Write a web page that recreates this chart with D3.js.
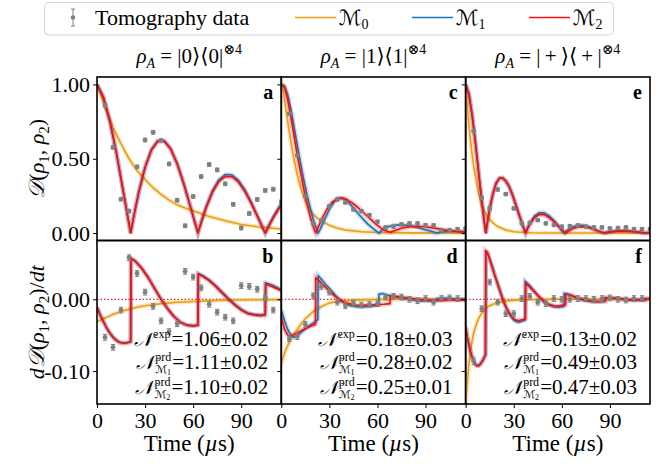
<!DOCTYPE html>
<html>
<head>
<meta charset="utf-8">
<script src="https://cdn.jsdelivr.net/npm/d3@7"></script>
<style>
  body { margin: 0; background: #fff; }
  text { font-family: "Liberation Serif", "Times New Roman", "DejaVu Serif", serif; fill: #000; }
  .cal { font-family: "DejaVu Serif", "DejaVu Sans", serif; font-style: italic; }
  .tick text { font-family: "Liberation Serif", "Times New Roman", serif; font-size: 22px; }
</style>
</head>
<body>
<svg id="chart" width="663" height="464"></svg>
<script>
// sample times (us)
const tTop = [5, 10, 15, 20, 25, 30, 35, 40, 45, 50, 55, 60, 65, 70, 75, 80, 85, 90, 95, 100, 105, 110, 115]
const tDer = [5, 10, 15, 20, 25, 30, 35, 40, 45, 50, 55, 60, 65, 70, 75, 80, 85, 90, 95, 100, 105, 110]
const xTicks = [0, 30, 60, 90]
const yTicksTop = [0, 0.5, 1]
const yTicksBot = [-0.1, 0]
const stateLabels = ['0', '1', '\u2009+\u2009']
const letters = ['a', 'b', 'c', 'd', 'e', 'f']

// tomography data
const aData = [0.86, 0.577, 0.228, 0.148, 0.445, 0.626, 0.678, 0.624, 0.465, 0.221, 0.049, 0.246, 0.38, 0.461, 0.425, 0.331, 0.193, 0.034, 0.132, 0.226, 0.287, 0.295, 0.21]
const aErr = [0.012, 0.012, 0.012, 0.012, 0.012, 0.012, 0.012, 0.012, 0.012, 0.012, 0.012, 0.012, 0.012, 0.012, 0.012, 0.012, 0.012, 0.012, 0.012, 0.012, 0.012, 0.012, 0.012]
const cData = [0.803, 0.523, 0.248, 0.065, 0.083, 0.181, 0.226, 0.206, 0.159, 0.148, 0.121, 0.076, 0.038, 0.043, 0.058, 0.065, 0.065, 0.054, 0.052, 0.02, 0.02, 0.027, 0.03]
const cErr = [0.01, 0.01, 0.01, 0.01, 0.01, 0.01, 0.01, 0.01, 0.01, 0.01, 0.01, 0.01, 0.01, 0.01, 0.01, 0.01, 0.01, 0.01, 0.01, 0.01, 0.01, 0.01, 0.01]
const eData = [0.685, 0.237, 0.166, 0.293, 0.262, 0.166, 0.065, 0.069, 0.087, 0.065, 0.054, 0.043, 0.047, 0.051, 0.043, 0.038, 0.038, 0.031, 0.034, 0.038, 0.027, 0.027, 0.027]
const eErr = [0.01, 0.01, 0.01, 0.01, 0.01, 0.01, 0.01, 0.01, 0.01, 0.01, 0.01, 0.01, 0.01, 0.01, 0.01, 0.01, 0.01, 0.01, 0.01, 0.01, 0.01, 0.01, 0.01]
const bData = [-0.053, -0.067, -0.015, 0.058, 0.036, 0.01, -0.01, -0.03, -0.045, -0.034, 0.039, 0.031, 0.016, -0.007, -0.018, -0.025, -0.03, 0.019, 0.018, 0.014, 0.002, -0.015]
const bErr = [0.004, 0.004, 0.004, 0.004, 0.004, 0.004, 0.004, 0.004, 0.004, 0.004, 0.004, 0.004, 0.004, 0.004, 0.004, 0.004, 0.004, 0.004, 0.004, 0.004, 0.004, 0.004]
const dData = [-0.055, -0.052, -0.035, 0.005, 0.018, 0.01, -0.004, -0.009, -0.005, -0.008, -0.007, -0.006, 0.003, 0.004, 0.003, 0.0, -0.002, 0.001, -0.004, 0.001, 0.002, 0.001]
const dErr = [0.004, 0.004, 0.004, 0.004, 0.004, 0.004, 0.004, 0.004, 0.004, 0.004, 0.004, 0.004, 0.004, 0.004, 0.004, 0.004, 0.004, 0.004, 0.004, 0.004, 0.004, 0.004]
const fData = [-0.086, -0.013, 0.024, -0.004, -0.02, -0.02, 0.001, 0.004, -0.004, -0.006, 0.001, 0.0, 0.0, 0.001, 0.001, 0.0, 0.001, 0.002, 0.0, -0.001, 0.001, 0.001]
const fErr = [0.005, 0.004, 0.004, 0.004, 0.004, 0.004, 0.004, 0.004, 0.004, 0.004, 0.004, 0.004, 0.004, 0.004, 0.004, 0.004, 0.004, 0.004, 0.004, 0.004, 0.004, 0.004]

// model curves [t, value]
const aM0 = [[0, 1], [3, 0.91], [6, 0.82], [10, 0.71], [15, 0.6], [20, 0.5], [25, 0.42], [30, 0.36], [35, 0.305], [40, 0.26], [45, 0.222], [50, 0.19], [55, 0.168], [60, 0.15], [70, 0.112], [80, 0.083], [90, 0.058], [100, 0.043], [115, 0.027]]
const aM1 = [[0, 1], [4, 0.914], [8, 0.754], [12, 0.544], [16, 0.304], [19, 0.12], [21, 0], [23, 0.115], [26, 0.272], [30, 0.443], [34, 0.561], [38, 0.621], [42, 0.62], [46, 0.567], [50, 0.468], [54, 0.337], [58, 0.189], [61, 0.075], [63, 0], [65, 0.073], [68, 0.174], [72, 0.283], [76, 0.358], [80, 0.393], [84, 0.392], [88, 0.358], [92, 0.295], [96, 0.212], [100, 0.118], [103, 0.046], [105, 0], [107, 0.047], [110, 0.11], [113, 0.165], [115, 0.2]]
const aM2 = [[0, 1], [4, 0.914], [8, 0.754], [12, 0.544], [16, 0.304], [19, 0.12], [21, 0], [23, 0.115], [26, 0.272], [30, 0.443], [34, 0.561], [38, 0.619], [42, 0.618], [46, 0.565], [50, 0.466], [54, 0.336], [58, 0.188], [61, 0.075], [63, 0], [65, 0.071], [68, 0.168], [72, 0.274], [76, 0.346], [80, 0.38], [84, 0.379], [88, 0.346], [92, 0.285], [96, 0.205], [100, 0.114], [103, 0.044], [105, 0], [107, 0.043], [110, 0.102], [113, 0.155], [115, 0.185]]
const bM0 = [[0, -0.031], [5, -0.026], [10, -0.021], [15, -0.017], [20, -0.014], [25, -0.011], [30, -0.009], [40, -0.006], [50, -0.0042], [60, -0.003], [70, -0.002], [80, -0.0014], [90, -0.001], [100, -0.0007], [115, -0.0004]]
const bM1 = [[0, -0.011], [2, -0.022], [4, -0.031], [6, -0.04], [8, -0.047], [10, -0.053], [12, -0.057], [14, -0.06], [16, -0.061], [18, -0.061], [20, -0.06], [21, -0.059], [21.2, 0.057], [24, 0.053], [28, 0.043], [32, 0.03], [36, 0.015], [40, 0.0], [44, -0.013], [48, -0.024], [52, -0.032], [56, -0.036], [60, -0.037], [63, -0.036], [63.2, 0.036], [66, 0.033], [70, 0.027], [74, 0.019], [78, 0.01], [82, 0.001], [86, -0.007], [90, -0.014], [94, -0.019], [98, -0.021], [102, -0.022], [105, -0.021], [105.2, 0.023], [108, 0.021], [112, 0.017], [115, 0.013]]
const bM2 = [[0, -0.011], [2, -0.022], [4, -0.031], [6, -0.04], [8, -0.047], [10, -0.053], [12, -0.057], [14, -0.06], [16, -0.061], [18, -0.061], [20, -0.06], [21, -0.059], [21.2, 0.057], [24, 0.053], [28, 0.043], [32, 0.03], [36, 0.015], [40, 0.0], [44, -0.013], [48, -0.024], [52, -0.032], [56, -0.036], [60, -0.037], [63, -0.036], [63.2, 0.035], [66, 0.032], [70, 0.026], [74, 0.018], [78, 0.009], [82, 0.0], [86, -0.008], [90, -0.015], [94, -0.02], [98, -0.022], [102, -0.023], [105, -0.022], [105.2, 0.021], [108, 0.019], [112, 0.015], [115, 0.012]]
const cM0 = [[0, 1], [1, 0.96], [2.5, 0.86], [5, 0.68], [7.5, 0.52], [10, 0.39], [12.5, 0.29], [15, 0.215], [17.5, 0.16], [20, 0.125], [22.5, 0.1], [25, 0.082], [30, 0.052], [35, 0.033], [40, 0.021], [50, 0.009], [60, 0.004], [80, 0.001], [115, 0]]
const cM1 = [[0, 1], [2, 0.99], [4, 0.93], [6, 0.83], [8, 0.71], [10, 0.59], [12, 0.47], [14, 0.36], [16, 0.26], [18, 0.17], [20, 0.09], [22, 0.025], [23, 0.0], [24.5, 0.03], [27, 0.09], [30, 0.16], [33, 0.21], [36, 0.235], [39, 0.23], [42, 0.205], [45, 0.17], [48, 0.13], [51, 0.095], [54, 0.06], [57, 0.033], [59.5, 0.012], [61, 0.0], [63, 0.02], [66, 0.04], [70, 0.052], [75, 0.055], [80, 0.05], [85, 0.038], [90, 0.023], [94, 0.01], [97, 0.0], [100, 0.008], [105, 0.013], [110, 0.012], [115, 0.008]]
const cM2 = [[0, 1], [2, 0.98], [4, 0.9], [6, 0.78], [8, 0.65], [10, 0.52], [12, 0.41], [14, 0.3], [16, 0.2], [18, 0.11], [20, 0.04], [21.5, 0.0], [23, 0.04], [26, 0.11], [29, 0.17], [32, 0.21], [35, 0.232], [38, 0.236], [41, 0.225], [44, 0.205], [47, 0.18], [50, 0.15], [53, 0.12], [56, 0.09], [59, 0.06], [62, 0.035], [65, 0.015], [68, 0.005], [71, 0.018], [75, 0.032], [80, 0.042], [85, 0.046], [90, 0.043], [95, 0.035], [100, 0.025], [105, 0.016], [110, 0.01], [115, 0.006]]
const dM0 = [[0, -0.09], [1, -0.082], [2.5, -0.072], [5, -0.06], [7.5, -0.05], [10, -0.042], [12.5, -0.034], [15, -0.027], [17.5, -0.022], [20, -0.017], [25, -0.01], [30, -0.005], [35, -0.003], [40, -0.0018], [50, -0.0008], [60, -0.0003], [80, 0], [115, 0]]
const dM1 = [[0, -0.015], [2, -0.03], [4, -0.042], [6, -0.05], [8, -0.053], [10, -0.051], [12, -0.047], [14, -0.043], [16, -0.039], [18, -0.036], [20, -0.033], [22, -0.03], [22.8, -0.028], [23, 0.033], [25, 0.028], [28, 0.02], [31, 0.013], [34, 0.005], [37, -0.002], [40, -0.006], [43, -0.009], [46, -0.01], [50, -0.0105], [54, -0.01], [58, -0.009], [60.8, -0.008], [61, 0.007], [63, 0.008], [66, 0.006], [70, 0.004], [75, 0.002], [80, 0.0], [85, -0.002], [90, -0.0025], [94, -0.002], [97, -0.0015], [97.2, 0.001], [103, 0.0015], [110, 0.0005], [115, 0]]
const dM2 = [[0, -0.025], [2, -0.042], [4, -0.05], [5, -0.051], [7, -0.05], [10, -0.047], [13, -0.043], [16, -0.04], [19, -0.037], [21.3, -0.035], [21.5, 0.03], [24, 0.025], [27, 0.018], [30, 0.011], [33, 0.005], [36, 0.0], [39, -0.004], [42, -0.006], [46, -0.008], [50, -0.0085], [55, -0.008], [60, -0.0075], [64, -0.007], [67.8, -0.006], [68, 0.004], [70, 0.0045], [75, 0.003], [80, 0.0015], [85, 0.0], [90, -0.001], [95, -0.0015], [100, -0.0015], [105, -0.0012], [110, -0.001], [115, -0.0008]]
const eM0 = [[0, 1], [1, 0.85], [2, 0.73], [3, 0.62], [4, 0.53], [5, 0.45], [6, 0.39], [8, 0.27], [10, 0.19], [12, 0.14], [14, 0.105], [17, 0.068], [20, 0.044], [25, 0.02], [30, 0.009], [40, 0.002], [60, 0], [115, 0]]
const eM1 = [[0, 1], [2, 0.94], [4, 0.8], [6, 0.62], [8, 0.42], [10, 0.22], [11.6, 0.08], [12.6, 0], [13.6, 0.07], [15, 0.165], [17, 0.265], [19, 0.335], [21, 0.37], [23, 0.372], [25, 0.352], [27, 0.316], [29, 0.262], [31, 0.198], [33, 0.132], [35, 0.068], [36.3, 0.025], [37.2, 0], [38.2, 0.028], [40, 0.065], [43, 0.115], [46, 0.137], [49, 0.136], [52, 0.116], [55, 0.084], [58, 0.045], [60, 0.016], [61.5, 0], [63.5, 0.02], [66, 0.039], [69, 0.05], [73, 0.053], [77, 0.042], [81, 0.022], [84, 0.008], [86, 0], [89, 0.008], [94, 0.016], [99, 0.017], [104, 0.012], [109, 0.005], [111.5, 0], [115, 0.003]]
const eM2 = [[0, 1], [2, 0.93], [4, 0.79], [6, 0.61], [8, 0.41], [10, 0.215], [11.5, 0.08], [12.5, 0], [13.5, 0.07], [15, 0.165], [17, 0.265], [19, 0.335], [21, 0.368], [23, 0.37], [25, 0.35], [27, 0.315], [29, 0.262], [31, 0.2], [33, 0.135], [35, 0.072], [36.5, 0.028], [37.5, 0], [38.5, 0.026], [40, 0.058], [43, 0.105], [46, 0.125], [49, 0.124], [52, 0.105], [55, 0.077], [58, 0.044], [60.5, 0.018], [62.5, 0], [64.5, 0.015], [67, 0.03], [70, 0.04], [74, 0.042], [78, 0.032], [82, 0.016], [85, 0.006], [87.5, 0], [90, 0.006], [95, 0.013], [100, 0.013], [105, 0.009], [110, 0.003], [112.5, 0], [115, 0.002]]
const fM0 = [[0, -0.145], [0.5, -0.13], [1, -0.115], [2, -0.09], [3, -0.072], [4, -0.058], [5, -0.047], [6, -0.039], [8, -0.027], [10, -0.019], [12, -0.014], [14, -0.01], [17, -0.007], [20, -0.0045], [25, -0.0025], [30, -0.0012], [40, -0.0004], [60, 0], [115, 0]]
const fM1 = [[0, -0.038], [1, -0.052], [2, -0.063], [3, -0.073], [4, -0.08], [5, -0.086], [6, -0.09], [7, -0.092], [8, -0.092], [9, -0.09], [10, -0.087], [11, -0.083], [12.4, -0.077], [12.6, 0.065], [13.5, 0.064], [15, 0.056], [16.5, 0.046], [18, 0.035], [19.5, 0.025], [21, 0.015], [22.5, 0.005], [24, -0.005], [25.5, -0.013], [27, -0.02], [28.5, -0.025], [30, -0.029], [31.5, -0.031], [33, -0.032], [34.5, -0.031], [36, -0.03], [37, -0.029], [37.2, 0.025], [40, 0.019], [43, 0.011], [46, 0.003], [49, -0.004], [52, -0.008], [55, -0.0105], [58, -0.011], [61.3, -0.01], [61.5, 0.008], [64, 0.007], [68, 0.003], [73, -0.001], [78, -0.003], [83, -0.0035], [86, -0.003], [86.2, 0.002], [90, 0.002], [95, 0.001], [100, -0.0005], [105, -0.001], [111.3, -0.001], [111.5, 0.0008], [115, 0.0007]]
const fM2 = [[0, -0.04], [1, -0.053], [2, -0.064], [3, -0.073], [4, -0.081], [5, -0.087], [6, -0.091], [7, -0.093], [8, -0.093], [9, -0.091], [10, -0.088], [11, -0.084], [12.3, -0.078], [12.5, 0.068], [13.5, 0.066], [15, 0.056], [16.5, 0.045], [18, 0.034], [19.5, 0.024], [21, 0.014], [22.5, 0.004], [24, -0.005], [25.5, -0.012], [27, -0.018], [28.5, -0.023], [30, -0.027], [31.5, -0.029], [33, -0.03], [34.5, -0.029], [36, -0.028], [37.3, -0.027], [37.5, 0.022], [40, 0.017], [43, 0.01], [46, 0.003], [49, -0.003], [52, -0.007], [55, -0.009], [58, -0.0095], [60.5, -0.008], [62.3, -0.0075], [62.5, 0.007], [65, 0.006], [70, 0.002], [75, -0.001], [80, -0.003], [85, -0.003], [87.3, -0.0025], [87.5, 0.002], [90, 0.0018], [95, 0.001], [100, -0.0005], [105, -0.001], [110, -0.001], [112.3, -0.001], [112.5, 0.0008], [115, 0.0007]]

// annotation numbers
const nExp = ['1.06±0.02', '0.18±0.03', '0.13±0.02']
const nPrd1 = ['1.11±0.02', '0.28±0.02', '0.49±0.03']
const nPrd2 = ['1.10±0.02', '0.25±0.01', '0.47±0.03']

const colors = { m0: '#E8A010', m1: '#1a72b8', m2: '#f01010', data: '#808080' }

const svg = d3.select('#chart')
const defs = svg.append('defs')
const colX = [97, 281.3, 465.7]
const colW = 184.3
const rowY = [77, 240.5]
const rowH = 163.5

const yTop = d3.scaleLinear().domain([-0.05, 1.05]).range([rowY[0] + rowH, rowY[0]])
const yBot = d3.scaleLinear().domain([-0.146, 0.082]).range([rowY[1] + rowH, rowY[1]])
const fmt = (d) => d3.format('.2f')(d).replace('\u2212', '-')

const panels = [
  { col: 0, row: 0, t: tTop, v: aData, e: aErr, m: [aM0, aM1, aM2] },
  { col: 0, row: 1, t: tDer, v: bData, e: bErr, m: [bM0, bM1, bM2] },
  { col: 1, row: 0, t: tTop, v: cData, e: cErr, m: [cM0, cM1, cM2] },
  { col: 1, row: 1, t: tDer, v: dData, e: dErr, m: [dM0, dM1, dM2] },
  { col: 2, row: 0, t: tTop, v: eData, e: eErr, m: [eM0, eM1, eM2] },
  { col: 2, row: 1, t: tDer, v: fData, e: fErr, m: [fM0, fM1, fM2] },
]

// N^{sup}_{sub} = value, right aligned at xr
const noteLine = (g, xr, yb, supTxt, subIdx, valTxt) => {
  const grp = g.append('g')
  const n = grp.append('text').attr('class', 'cal').attr('y', yb).style('font-size', '19px').text('𝒩')
  const wN = n.node().getComputedTextLength()
  const sup = grp.append('text').attr('x', wN + 1).attr('y', yb - 8).style('font-size', '12px').text(supTxt)
  let w2 = sup.node().getComputedTextLength()
  if (subIdx) {
    const sub = grp.append('text').attr('x', wN + 1).attr('y', yb + 4).style('font-size', '11px')
    sub.append('tspan').attr('class', 'cal').text('ℳ')
    sub.append('tspan').attr('dy', 1.5).style('font-size', '8px').text(subIdx)
    w2 = Math.max(w2, sub.node().getComputedTextLength())
  }
  const v = grp.append('text').attr('x', wN + w2 + 2).attr('y', yb).style('font-size', '21px').text('=' + valTxt)
  const total = wN + w2 + 2 + v.node().getComputedTextLength()
  grp.attr('transform', `translate(${xr - total},0)`)
}

panels.forEach((p, i) => {
  const x0 = colX[p.col]
  const y0 = rowY[p.row]
  const x = d3.scaleLinear().domain([0, 115]).range([x0, x0 + colW])
  const y = p.row === 0 ? yTop : yBot
  const g = svg.append('g')
  const clipId = `clip-${i}`
  defs.append('clipPath').attr('id', clipId)
    .append('rect').attr('x', x0).attr('y', y0).attr('width', colW).attr('height', rowH)
  const plot = g.append('g').attr('clip-path', `url(#${clipId})`)

  if (p.row === 1) {
    plot.append('line')
      .attr('x1', x0).attr('x2', x0 + colW)
      .attr('y1', y(0)).attr('y2', y(0))
      .attr('stroke', '#f02020').attr('stroke-width', 1.2)
      .attr('stroke-dasharray', '1.5,2')
  }

  const line = d3.line().x((d) => x(d[0])).y((d) => y(d[1]))
  const cols = [colors.m0, colors.m1, colors.m2]
  p.m.forEach((curve, k) => {
    plot.append('path').attr('d', line(curve)).attr('fill', 'none')
      .attr('stroke', cols[k]).attr('stroke-opacity', 0.25).attr('stroke-width', 4.5)
    plot.append('path').attr('d', line(curve)).attr('fill', 'none')
      .attr('stroke', cols[k]).attr('stroke-width', 1.6).attr('stroke-linejoin', 'round')
  })

  const pts = p.t.map((t, j) => ({ t, v: p.v[j], e: p.e[j] }))
  const pg = plot.selectAll('g.pt').data(pts).join('g').attr('class', 'pt')
  pg.append('line').attr('x1', (d) => x(d.t)).attr('x2', (d) => x(d.t))
    .attr('y1', (d) => y(d.v - d.e)).attr('y2', (d) => y(d.v + d.e))
    .attr('stroke', colors.data).attr('stroke-width', 1)
  ;[-1, 1].forEach((s) => {
    pg.append('line').attr('x1', (d) => x(d.t) - 2.2).attr('x2', (d) => x(d.t) + 2.2)
      .attr('y1', (d) => y(d.v + s * d.e)).attr('y2', (d) => y(d.v + s * d.e))
      .attr('stroke', colors.data).attr('stroke-width', 1)
  })
  pg.append('circle').attr('cx', (d) => x(d.t)).attr('cy', (d) => y(d.v)).attr('r', 2.4)
    .attr('fill', colors.data)

  // axes
  const yAxis = d3.axisLeft(y).tickValues(p.row === 0 ? yTicksTop : yTicksBot)
    .tickSize(4).tickPadding(3).tickFormat(p.col === 0 ? fmt : () => '')
  const ya = g.append('g').attr('transform', `translate(${x0},0)`).call(yAxis)
  ya.select('.domain').remove()
  ya.selectAll('.tick line').attr('stroke-width', 1)

  if (p.row === 1) {
    const xAxis = d3.axisBottom(x).tickValues(xTicks).tickSize(4).tickPadding(4)
    const xa = g.append('g').attr('transform', `translate(0,${y0 + rowH})`).call(xAxis)
    xa.select('.domain').remove()
    xa.selectAll('.tick line').attr('stroke-width', 1)
    g.append('text').attr('x', x0 + colW / 2).attr('y', 451).attr('text-anchor', 'middle')
      .style('font-size', '23px')
      .call((t) => {
        t.append('tspan').text('Time (')
        t.append('tspan').style('font-style', 'italic').text('µ')
        t.append('tspan').text('s)')
      })
    const xr = x0 + colW - 13
    noteLine(g, xr, 346, 'exp', null, nExp[p.col])
    noteLine(g, xr, 369, 'prd', '1', nPrd1[p.col])
    noteLine(g, xr, 394, 'prd', '2', nPrd2[p.col])
  }

  g.append('rect').attr('x', x0).attr('y', y0).attr('width', colW).attr('height', rowH)
    .attr('fill', 'none').attr('stroke', '#000').attr('stroke-width', 1.6)

  g.append('text').attr('x', x0 + colW - 8).attr('y', y0 + 22).attr('text-anchor', 'end')
    .style('font-size', '20px').style('font-weight', 'bold').text(letters[i])
})

// column titles
stateLabels.forEach((s, c) => {
  const t = svg.append('text').attr('x', colX[c] + colW / 2).attr('y', 63)
    .attr('text-anchor', 'middle').style('font-size', '21px')
  t.append('tspan').style('font-style', 'italic').text('ρ')
  t.append('tspan').attr('dy', 5).style('font-size', '14px').style('font-style', 'italic').text('A')
  t.append('tspan').attr('dy', -5).text(` = |${s}⟩⟨${s}|`)
  t.append('tspan').attr('dy', -9).style('font-size', '14px').text('⊗4')
})

// y labels
const yl1 = svg.append('text').attr('transform', `translate(44,${rowY[0] + rowH / 2}) rotate(-90)`)
  .attr('text-anchor', 'middle').style('font-size', '22px')
yl1.append('tspan').attr('class', 'cal').text('𝒟')
yl1.append('tspan').text('(')
yl1.append('tspan').style('font-style', 'italic').text('ρ')
yl1.append('tspan').attr('dy', 5).style('font-size', '15px').text('1')
yl1.append('tspan').attr('dy', -5).text(', ')
yl1.append('tspan').style('font-style', 'italic').text('ρ')
yl1.append('tspan').attr('dy', 5).style('font-size', '15px').text('2')
yl1.append('tspan').attr('dy', -5).text(')')

const yl2 = svg.append('text').attr('transform', `translate(44,${rowY[1] + rowH / 2}) rotate(-90)`)
  .attr('text-anchor', 'middle').style('font-size', '22px')
yl2.append('tspan').style('font-style', 'italic').text('d')
yl2.append('tspan').attr('class', 'cal').text('𝒟')
yl2.append('tspan').text('(')
yl2.append('tspan').style('font-style', 'italic').text('ρ')
yl2.append('tspan').attr('dy', 5).style('font-size', '15px').text('1')
yl2.append('tspan').attr('dy', -5).text(', ')
yl2.append('tspan').style('font-style', 'italic').text('ρ')
yl2.append('tspan').attr('dy', 5).style('font-size', '15px').text('2')
yl2.append('tspan').attr('dy', -5).text(')/')
yl2.append('tspan').style('font-style', 'italic').text('dt')

// legend
const lg = svg.append('g')
lg.append('rect').attr('x', 44.5).attr('y', 2.5).attr('width', 569).attr('height', 32.5).attr('rx', 4)
  .attr('fill', '#fff').attr('stroke', '#d6d6d6').attr('stroke-width', 1)
lg.append('line').attr('x1', 73).attr('x2', 73).attr('y1', 9).attr('y2', 26).attr('stroke', colors.data)
;[9, 26].forEach((yy) => lg.append('line').attr('x1', 71).attr('x2', 75).attr('y1', yy).attr('y2', yy).attr('stroke', colors.data))
lg.append('circle').attr('cx', 73).attr('cy', 17.5).attr('r', 2.3).attr('fill', colors.data)
lg.append('text').attr('x', 95).attr('y', 24.5).style('font-size', '22px').text('Tomography data')
const legItems = [
  { x: 295, c: colors.m0, s: '0' },
  { x: 412, c: colors.m1, s: '1' },
  { x: 529, c: colors.m2, s: '2' },
]
legItems.forEach((it) => {
  lg.append('line').attr('x1', it.x).attr('x2', it.x + 41).attr('y1', 17.5).attr('y2', 17.5)
    .attr('stroke', it.c).attr('stroke-width', 1.6)
  const t = lg.append('text').attr('x', it.x + 44).attr('y', 24.5).style('font-size', '21px')
  t.append('tspan').attr('class', 'cal').text('ℳ')
  t.append('tspan').attr('dy', 4).style('font-size', '14px').text(it.s)
})
</script>
</body>
</html>
